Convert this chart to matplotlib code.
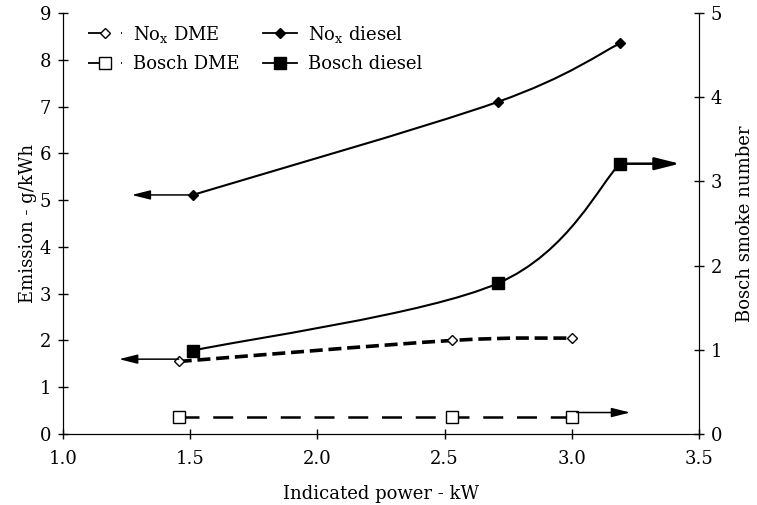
import matplotlib.pyplot as plt
import numpy as np
from matplotlib.path import Path
from matplotlib.patches import PathPatch
from matplotlib.lines import Line2D

plt.rcParams['font.family'] = ['DejaVu Serif']
plt.rcParams['mathtext.fontset'] = 'dejavuserif'

# data
power_dme = [1.455, 2.53, 3.0]
power_diesel = [1.51, 2.71, 3.19]
nox_dme = [1.55, 2.0, 2.05]
nox_diesel = [5.11, 7.1, 8.35]
bosch_dme = [0.2, 0.2, 0.2]
bosch_diesel = [0.99, 1.79, 3.21]


def smooth_path(x, y):
    # spreadsheet-style smoothed line: Bezier segments through the points
    pts = np.column_stack([x, y]).astype(float)
    n = len(pts)
    verts = [pts[0]]
    codes = [Path.MOVETO]
    for i in range(n - 1):
        p0 = pts[i - 1] if i > 0 else pts[i]
        p1 = pts[i]
        p2 = pts[i + 1]
        p3 = pts[i + 2] if i + 2 < n else pts[i + 1]
        c1 = p1 + (p2 - p0) / 6.0
        c2 = p2 - (p3 - p1) / 6.0
        verts += [c1, c2, p2]
        codes += [Path.CURVE4] * 3
    return Path(verts, codes)


fig = plt.figure(figsize=(7.57, 5.05), dpi=100)
ax = fig.add_axes([0.0832, 0.1406, 0.840, 0.8337])
ax2 = ax.twinx()

# NOx diesel
ax.add_patch(PathPatch(smooth_path(power_diesel, nox_diesel), fill=False,
                       lw=1.5, color='k'))
ax.plot(power_diesel, nox_diesel, ls='none', marker='D', ms=5.5, color='k')
# NOx DME
ax.add_patch(PathPatch(smooth_path(power_dme, nox_dme), fill=False,
                       lw=2.6, color='k', ls=(0, (3.6, 1.6))))
ax.plot(power_dme, nox_dme, ls='none', marker='D', ms=5.5, mfc='white',
        mec='k', mew=1)

# Bosch diesel
ax2.add_patch(PathPatch(smooth_path(power_diesel, bosch_diesel), fill=False,
                        lw=1.5, color='k'))
ax2.plot(power_diesel, bosch_diesel, ls='none', marker='s', ms=8, color='k')
# Bosch DME
ax2.plot(power_dme, bosch_dme, ls=(0, (8, 5.5)), lw=1.8, color='k',
         marker='s', ms=8, mfc='white', mec='k', mew=1)

arrow = dict(arrowstyle='-|>,head_length=0.8,head_width=0.2', color='k',
             lw=1.1, mutation_scale=14, shrinkA=0, shrinkB=0)
ax.annotate('', xy=(1.27, nox_diesel[0]), xytext=(power_diesel[0], nox_diesel[0]),
            arrowprops=arrow)
ax.annotate('', xy=(1.22, 1.6), xytext=(power_dme[0], 1.6),
            arrowprops=arrow)
ax2.annotate('', xy=(3.425, bosch_diesel[2]), xytext=(power_diesel[2], bosch_diesel[2]),
             arrowprops=dict(arrow, lw=1.8, mutation_scale=19))
ax2.annotate('', xy=(3.23, 0.255), xytext=(3.02, 0.255), arrowprops=arrow)

ax.set_xlim(1.0, 3.5)
ax.set_ylim(0, 9)
ax2.set_ylim(0, 5)
ax.set_xticks(np.arange(1.0, 3.51, 0.5))
ax.set_xticklabels(['1.0', '1.5', '2.0', '2.5', '3.0', '3.5'])
ax.set_yticks(range(0, 10))
ax2.set_yticks(range(0, 6))

for a in (ax, ax2):
    a.spines['top'].set_visible(False)
    a.tick_params(direction='inout', length=7, width=1, labelsize=13, pad=5)
ax.tick_params(axis='x', pad=8)

ax.set_xlabel('Indicated power - kW', fontsize=13, labelpad=12)
ax.set_ylabel('Emission - g/kWh', fontsize=13, labelpad=2)
ax2.set_ylabel('Bosch smoke number', fontsize=13, labelpad=10)

dme_ls = (0, (8.3, 10, 0.6, 20))
handles = [
    Line2D([], [], color='k', lw=1.3, ls=dme_ls, marker='D', ms=5.5,
           mfc='white', mec='k'),
    Line2D([], [], color='k', lw=1.3, ls=dme_ls, marker='s', ms=8,
           mfc='white', mec='k'),
    Line2D([], [], color='k', lw=1.3, marker='D', ms=5.5),
    Line2D([], [], color='k', lw=1.3, marker='s', ms=8),
]
labels = [r'No$_\mathrm{x}$ DME', 'Bosch DME',
          r'No$_\mathrm{x}$ diesel', 'Bosch diesel']
ax2.legend(handles, labels, ncol=2, frameon=False, loc='upper left',
           bbox_to_anchor=(0.039, 0.975), fontsize=13, handlelength=1.9,
           handletextpad=0.6, columnspacing=1.3, labelspacing=0.6,
           borderaxespad=0, borderpad=0)

fig.savefig('out.png', dpi=100)
